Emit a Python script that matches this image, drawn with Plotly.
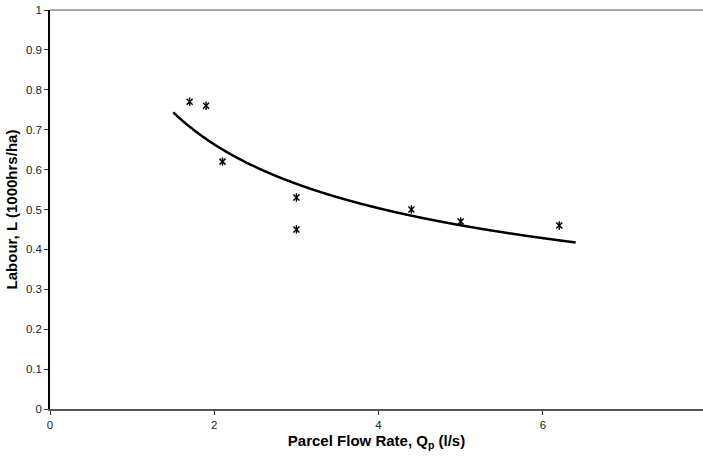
import numpy as np
import plotly.graph_objects as go

# Observed labour requirement vs parcel flow rate
flow_rate = [1.7, 1.9, 2.1, 3.0, 3.0, 4.4, 5.0, 6.2]
labour = [0.77, 0.76, 0.62, 0.53, 0.45, 0.50, 0.47, 0.46]

# Power trendline L = a * Q^b fitted in log-log space
b, ln_a = np.polyfit(np.log(flow_rate), np.log(labour), 1)
a = np.exp(ln_a)
trend_start, trend_end = 1.5, 6.4
q_trend = np.linspace(trend_start, trend_end, 400)
l_trend = a * q_trend ** b

x_ticks = [0, 2, 4, 6]
y_ticks = [round(0.1 * i, 1) for i in range(11)]

fig = go.Figure()
fig.add_trace(go.Scatter(
    x=q_trend, y=l_trend, mode="lines",
    line=dict(color="black", width=2.5, shape="spline"),
    hoverinfo="skip", showlegend=False,
))
# Star markers: diagonal cross plus vertical stroke
fig.add_trace(go.Scatter(
    x=flow_rate, y=labour, mode="markers",
    marker=dict(symbol="x-thin-open", size=6, color="black",
                line=dict(color="black", width=1.6)),
    showlegend=False,
))
fig.add_trace(go.Scatter(
    x=flow_rate, y=labour, mode="markers",
    marker=dict(symbol="line-ns-open", size=6, color="black",
                line=dict(color="black", width=1.4)),
    showlegend=False, hoverinfo="skip",
))

font = dict(family="Liberation Sans, Arial, sans-serif", size=11.5, color="#222")

fig.update_layout(
    width=703, height=459,
    margin=dict(l=50, r=0, t=10, b=50),
    paper_bgcolor="white", plot_bgcolor="white",
    font=font,
    xaxis=dict(
        range=[0, 7.95], tickvals=x_ticks, ticktext=[str(v) for v in x_ticks],
        showgrid=False, zeroline=False,
        showline=True, linecolor="#555", linewidth=2,
        ticks="outside", ticklen=4, tickcolor="#333", tickwidth=1,
        title=dict(text="<b>Parcel Flow Rate, Q<sub>p</sub> (l/s)</b>",
                   font=dict(size=15, color="black"), standoff=6),
    ),
    yaxis=dict(
        range=[0, 1], tickvals=y_ticks,
        ticktext=["0" if v == 0 else ("1" if v == 1 else f"{v:.1f}") for v in y_ticks],
        showgrid=False, zeroline=False,
        showline=True, linecolor="black", linewidth=1.5,
        ticks="outside", ticklen=4, tickcolor="#333", tickwidth=1,
        title=dict(text="<b>Labour, L (1000hrs/ha)</b>",
                   font=dict(size=15, color="black"), standoff=5),
    ),
    shapes=[dict(type="line", xref="paper", yref="paper", x0=0, x1=1, y0=1, y1=1,
                 line=dict(color="#888", width=1.5))],
)

fig.write_html("out.html")
